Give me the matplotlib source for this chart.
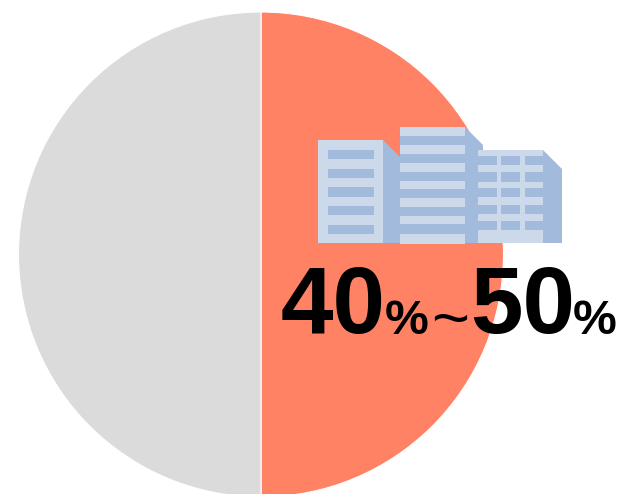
import matplotlib
matplotlib.use("Agg")
import matplotlib.pyplot as plt
from matplotlib.patches import Polygon, Rectangle

shares = [50, 50]
slice_colors = ["#FF8265", "#DBDBDB"]

LIGHT = "#CCD9EA"
DARK = "#A2BADC"

fig = plt.figure(figsize=(6.21, 4.94), dpi=100)
ax = fig.add_axes([0, 0, 1, 1])
ax.pie(shares, colors=slice_colors, startangle=90, counterclock=False,
       center=(261, 494 - 254.5), radius=242.5,
       wedgeprops={"edgecolor": "white", "linewidth": 0.8})
ax.set_xlim(0, 621)
ax.set_ylim(0, 494)
ax.set_aspect("equal")
ax.axis("off")


def rect(x0, y0, x1, y1, color, z=3):
    ax.add_patch(Rectangle((x0, 494 - y1), x1 - x0, y1 - y0, facecolor=color,
                           edgecolor="none", zorder=z, clip_on=False))


def poly(points, color, z=3):
    ax.add_patch(Polygon([(x, 494 - y) for x, y in points], closed=True,
                         facecolor=color, edgecolor="none", zorder=z))


# left building
poly([(383, 140), (400, 157), (400, 243), (383, 243)], DARK)
rect(318, 140, 383, 243, LIGHT)
for y0, y1 in [(150, 159), (169, 178), (187, 197), (206, 215), (225, 234)]:
    rect(328, y0, 374, y1, DARK, 4)

# middle building
poly([(465, 127), (483, 145), (483, 243), (465, 243)], DARK)
rect(400, 127, 465, 244, LIGHT)
for y0, y1 in [(136, 145), (154, 163), (172, 181), (189, 198), (207, 216), (224, 234)]:
    rect(400, y0, 465, y1, DARK, 4)

# right building
poly([(543, 150), (562, 169), (562, 243), (543, 243)], DARK, 5)
rect(478, 150, 543, 243, LIGHT, 5)
for y0, y1 in [(156, 165), (172, 182), (188, 197), (205, 214), (221, 230)]:
    for x0, x1 in [(478, 497), (501, 520), (525, 543)]:
        rect(x0, y0, x1, y1, DARK, 6)

BASE = 494 - 333
big = dict(fontfamily="Liberation Sans", fontweight="bold", color="black",
           fontsize=68, va="baseline", ha="left", zorder=8)
small = dict(fontfamily="Liberation Sans", fontweight="bold", color="black",
             fontsize=35.5, va="baseline", ha="left", zorder=8)
ax.text(281, BASE, "40", **big)
ax.text(385, BASE - 1, "%", **small)
ax.text(431, BASE - 7, "~", fontfamily="Liberation Sans", color="black",
        fontsize=47, va="baseline", ha="left", zorder=8)
ax.text(470, BASE, "50", **big)
ax.text(573, BASE - 1, "%", **small)

fig.savefig("out.png", dpi=100)
